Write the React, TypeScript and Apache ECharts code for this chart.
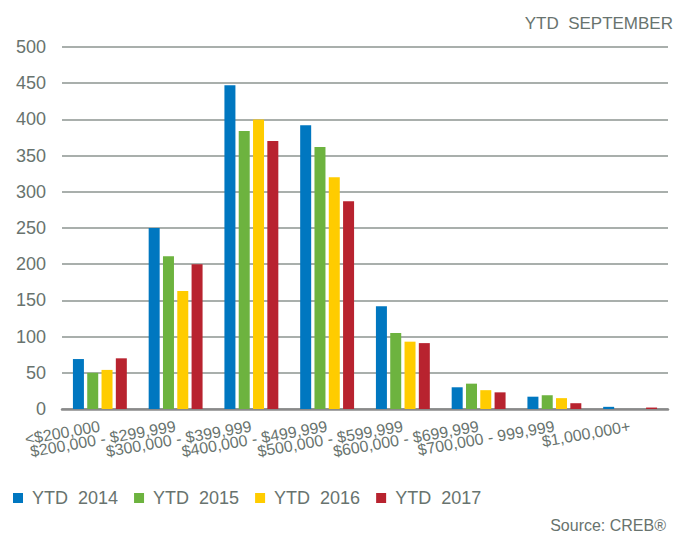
import React, { useEffect, useRef } from "react";
import * as echarts from "echarts";

const categories = [
  "<$200,000",
  "$200,000 - $299,999",
  "$300,000 - $399,999",
  "$400,000 - $499,999",
  "$500,000 - $599,999",
  "$600,000 - $699,999",
  "$700,000 - 999,999",
  "$1,000,000+",
];
const seriesNames = ["YTD  2014", "YTD  2015", "YTD  2016", "YTD  2017"];
const ytd2014 = [69, 250, 447, 392, 142, 30, 17, 3];
const ytd2015 = [50, 211, 384, 362, 105, 35, 19, 0];
const ytd2016 = [54, 163, 400, 320, 93, 26, 15, 0];
const ytd2017 = [70, 200, 370, 287, 91, 23, 8, 2];
const colors = ["#0077c0", "#6db33f", "#ffcc00", "#b8232f"];
const yTicks = { min: 0, max: 500, interval: 50 };

const FONT = "'Liberation Sans', Arial, sans-serif";
const TEXT = "#68736e";

export default function App() {
  const ref = useRef<HTMLDivElement>(null);
  useEffect(() => {
    if (!ref.current) return;
    const chart = echarts.init(ref.current, undefined, { renderer: "svg" });
    const data = [ytd2014, ytd2015, ytd2016, ytd2017];
    chart.setOption({
      animation: false,
      textStyle: { fontFamily: FONT },
      grid: { left: 62, right: 23, top: 47, bottom: 126 },
      legend: {
        left: 13,
        top: 489,
        padding: 0,
        itemWidth: 10,
        itemHeight: 10,
        itemGap: 16,
        icon: "rect",
        textStyle: { color: TEXT, fontSize: 18, fontFamily: FONT, padding: [0, 0, 0, 4] },
        data: seriesNames,
      },
      xAxis: {
        type: "category",
        data: categories,
        axisLine: { lineStyle: { color: "#8a8a8a", width: 2.5 } },
        axisTick: { show: false },
        axisLabel: {
          interval: 0,
          rotate: 10,
          margin: 17,
          color: TEXT,
          fontSize: 16,
          fontFamily: FONT,
        },
      },
      yAxis: {
        type: "value",
        min: yTicks.min,
        max: yTicks.max,
        interval: yTicks.interval,
        axisLine: { show: false },
        axisTick: { show: false },
        axisLabel: { color: TEXT, fontSize: 18, margin: 16, fontFamily: FONT },
        splitLine: { lineStyle: { color: "#8c9491", width: 1.5 } },
      },
      series: seriesNames.map((name, i) => ({
        name,
        type: "bar",
        data: data[i],
        barWidth: 11,
        barGap: "30%",
        itemStyle: { color: colors[i] },
      })),
      graphic: [
        {
          type: "text",
          x: 673,
          y: 23,
          style: {
            text: "YTD  SEPTEMBER",
            fill: TEXT,
            fontSize: 17,
            fontFamily: FONT,
            textAlign: "right",
            textVerticalAlign: "middle",
          },
        },
        {
          type: "text",
          x: 666,
          y: 525,
          style: {
            text: "Source: CREB®",
            fill: TEXT,
            fontSize: 16,
            fontFamily: FONT,
            textAlign: "right",
            textVerticalAlign: "middle",
          },
        },
      ],
    });
    return () => chart.dispose();
  }, []);
  return (
    <div
      ref={ref}
      style={{ position: "fixed", left: 0, top: 0, width: 691, height: 535, background: "#fff" }}
    />
  );
}
